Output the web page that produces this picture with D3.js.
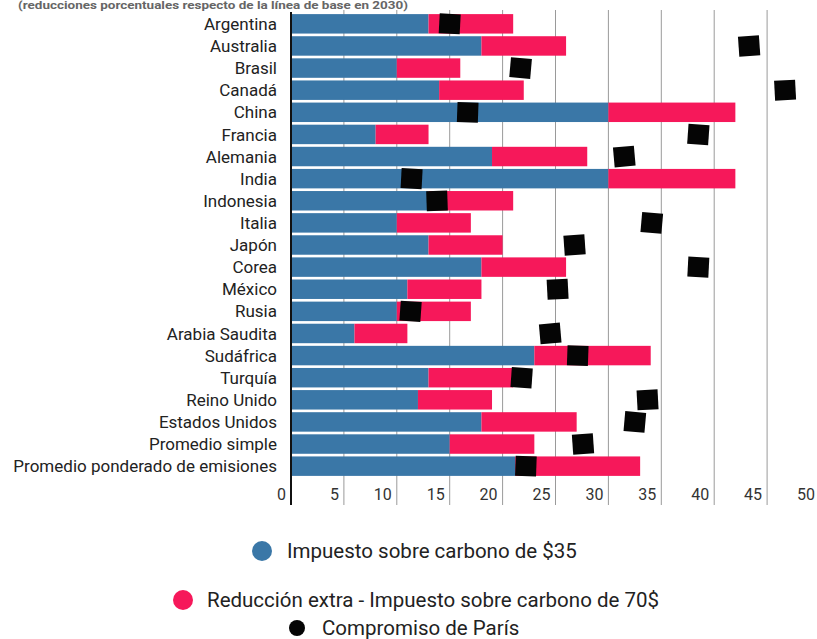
<!DOCTYPE html>
<html>
<head>
<meta charset="utf-8">
<script src="https://cdn.jsdelivr.net/npm/d3@7/dist/d3.min.js"></script>
<style>
  html, body { margin: 0; padding: 0; background: #fff; }
  svg { display: block; font-family: Roboto, "Noto Sans", sans-serif; }
</style>
</head>
<body>
<svg id="chart" width="817" height="639"></svg>
<script>
const categories = ["Argentina","Australia","Brasil","Canadá","China","Francia","Alemania","India","Indonesia","Italia","Japón","Corea","México","Rusia","Arabia Saudita","Sudáfrica","Turquía","Reino Unido","Estados Unidos","Promedio simple","Promedio ponderado de emisiones"];
const tax35 = [13, 18, 10, 14, 30, 8, 19, 30, 13, 10, 13, 18, 11, 10, 6, 23, 13, 12, 18, 15, 21.2];
const extra70 = [8, 8, 6, 8, 12, 5, 9, 12, 8, 7, 7, 8, 7, 7, 5, 11, 8, 7, 9, 8, 11.8];
const paris = [15, 43.3, 21.7, 46.7, 16.7, 38.5, 31.5, 11.4, 13.8, 34.1, 26.8, 38.5, 25.2, 11.3, 24.5, 27.1, 21.8, 33.7, 32.5, 27.6, 22.2];
const xTicks = [0, 5, 10, 15, 20, 25, 30, 35, 40, 45, 50];
const legendLabels = ["Impuesto sobre carbono de $35", "Reducción extra - Impuesto sobre carbono de 70$", "Compromiso de París"];
const title = "(reducciones porcentuales respecto de la línea de base en 2030)";

const BLUE = "#3a77a7", PINK = "#f6185a", BLACK = "#050505";
const svg = d3.select("#chart");

const x = d3.scaleLinear().domain([0, 50]).range([291, 820]);
const y = d3.scaleBand().domain(categories).range([13, 477]).paddingInner(0.12).paddingOuter(0.05);

// title (small, at the very top)
svg.append("text").attr("x", 18).attr("y", 9).attr("font-size", 10).attr("font-weight", "bold")
  .attr("fill", "#666").attr("textLength", 390).attr("lengthAdjust", "spacingAndGlyphs").text(title);

// gridlines
svg.append("g").selectAll("line").data(xTicks.filter(d => d > 0)).join("line")
  .attr("x1", d => x(d)).attr("x2", d => x(d)).attr("y1", 10).attr("y2", 505)
  .attr("stroke", "#9a9a9a").attr("stroke-width", 1);

// bars
const rows = categories.map((c, i) => ({c, a: tax35[i], b: extra70[i], p: paris[i]}));
svg.append("g").selectAll("rect").data(rows).join("rect")
  .attr("x", x(0)).attr("y", d => y(d.c)).attr("width", d => x(d.a) - x(0))
  .attr("height", y.bandwidth()).attr("fill", BLUE);
svg.append("g").selectAll("rect").data(rows).join("rect")
  .attr("x", d => x(d.a)).attr("y", d => y(d.c)).attr("width", d => x(d.a + d.b) - x(d.a))
  .attr("height", y.bandwidth()).attr("fill", PINK);

// Paris markers
const rot = [3, -4, 5, -3, 2, 4, -5, 3, -2, 5, -4, 3, -3, 4, -5, 2, 4, -3, 5, -4, 2];
svg.append("g").selectAll("rect").data(rows).join("rect")
  .attr("x", -10.5).attr("y", -10).attr("width", 21).attr("height", 20).attr("fill", BLACK)
  .attr("transform", (d, i) => `translate(${x(d.p)},${y(d.c) + y.bandwidth() / 2}) rotate(${rot[i]})`);

// axis line
svg.append("line").attr("x1", x(0)).attr("x2", x(0)).attr("y1", 12).attr("y2", 505)
  .attr("stroke", "#111").attr("stroke-width", 2);

// tick labels
svg.append("g").selectAll("text").data(xTicks).join("text")
  .attr("x", d => x(d) - 5).attr("y", 500).attr("text-anchor", "end")
  .attr("font-size", 16).attr("fill", "#333").text(d => d);

// category labels
svg.append("g").selectAll("text").data(categories).join("text")
  .attr("x", 277).attr("y", d => y(d) + y.bandwidth() / 2).attr("dy", "0.36em")
  .attr("text-anchor", "end").attr("font-size", 17).attr("fill", "#222").text(d => d);

// legend
const legend = [
  {label: legendLabels[0], color: BLUE, cx: 262, cy: 551, r: 10, tx: 287},
  {label: legendLabels[1], color: PINK, cx: 183, cy: 600, r: 10, tx: 207},
  {label: legendLabels[2], color: BLACK, cx: 297, cy: 628, r: 8, tx: 322}
];
const lg = svg.append("g").selectAll("g").data(legend).join("g");
lg.append("circle").attr("cx", d => d.cx).attr("cy", d => d.cy).attr("r", d => d.r).attr("fill", d => d.color);
lg.append("text").attr("x", d => d.tx).attr("y", d => d.cy).attr("dy", "0.36em")
  .attr("font-size", 20.5).attr("fill", "#222").text(d => d.label);
</script>
</body>
</html>
